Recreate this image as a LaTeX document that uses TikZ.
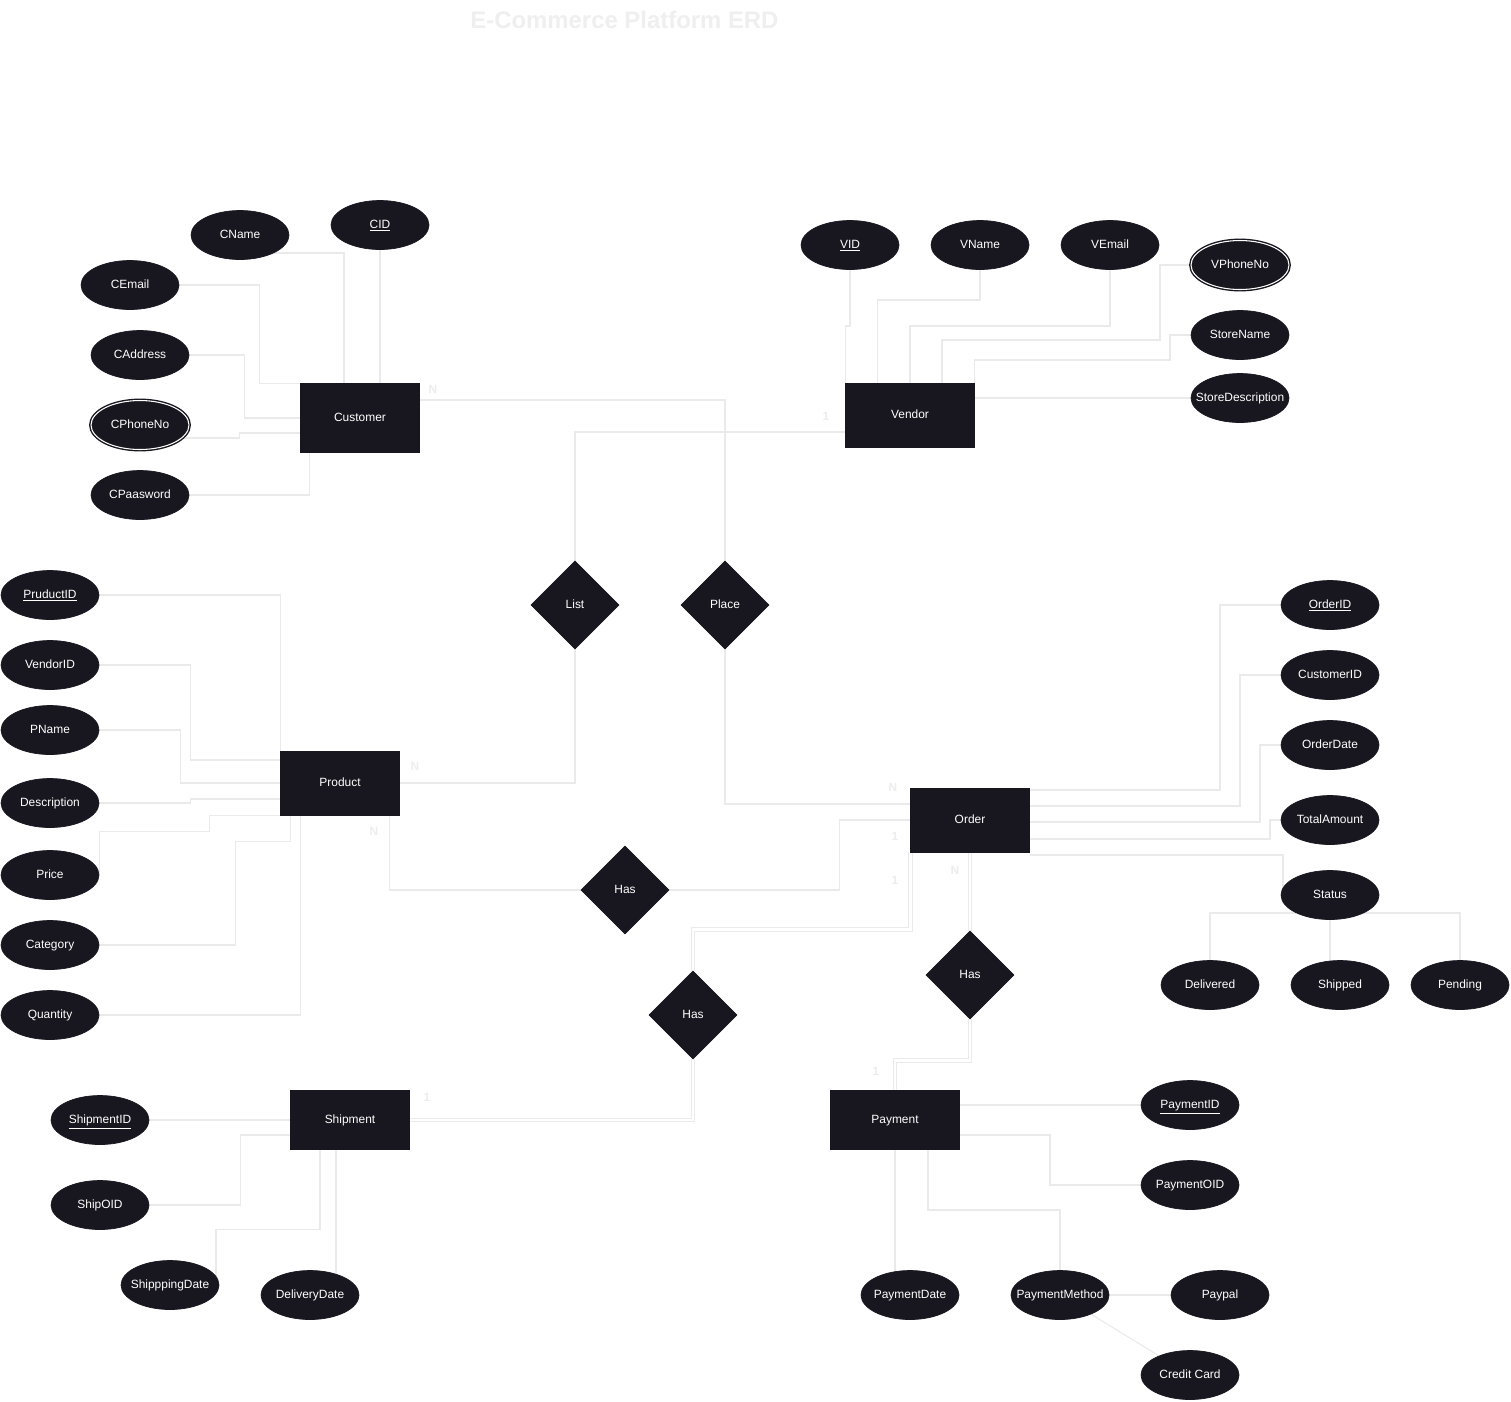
\documentclass[tikz,border=0pt]{standalone}
\usepackage{fontspec}
\setmainfont{Liberation Sans}
\usetikzlibrary{shapes.geometric,calc,backgrounds}
\definecolor{nodebg}{HTML}{18171F}
\definecolor{linec}{HTML}{EAEAEA}
\definecolor{cardc}{HTML}{EDEDED}
\definecolor{titlec}{HTML}{EFEFEF}
\newcommand\zw[1]{\makebox[0pt]{#1}}
\begin{document}
\begin{tikzpicture}[x=0.02cm, y=-0.02cm,
  font=\fontsize{6.8}{8}\selectfont,
  entity/.style={rectangle, fill=nodebg, draw=nodebg, text=white, inner sep=0pt, text height=5pt, text depth=1.4pt},
  attr/.style={ellipse, fill=nodebg, draw=nodebg, text=white, inner sep=0pt, minimum width=1.96cm, minimum height=0.98cm, text height=5pt, text depth=1.4pt},
  multi/.style={attr, double=white, double distance=0.6pt, line width=0.8pt},
  rel/.style={diamond, fill=nodebg, draw=nodebg, text=white, inner sep=0pt, minimum width=1.76cm, minimum height=1.76cm, text height=5pt, text depth=1.4pt},
  conn/.style={draw=linec, line width=0.6pt},
  dbl/.style={draw=linec, double=white, double distance=1.6pt, line width=0.55pt},
  card/.style={text=cardc, font=\fontsize{6.8}{8}\selectfont\bfseries, inner sep=0pt}]
\useasboundingbox (0,0) rectangle (1511,1401);

\node[text=titlec, font=\fontsize{13.6}{16}\selectfont\bfseries] (title) at (624.5,20) {E-Commerce Platform ERD};

% entities
\node[entity, minimum width=2.38cm, minimum height=1.38cm] (Customer) at (360,418) {Customer};
\node[entity, minimum width=2.58cm, minimum height=1.28cm] (Vendor) at (910,415) {Vendor};
\node[entity, minimum width=2.38cm, minimum height=1.28cm] (Product) at (340,783) {Product};
\node[entity, minimum width=2.38cm, minimum height=1.28cm] (Order) at (970,820) {Order};
\node[entity, minimum width=2.38cm, minimum height=1.18cm] (Shipment) at (350,1120) {Shipment};
\node[entity, minimum width=2.58cm, minimum height=1.18cm] (Payment) at (895,1120) {Payment};

% relationships
\node[rel] (List) at (575,605) {\zw{List}};
\node[rel] (Place) at (725,605) {\zw{Place}};
\node[rel] (Has1) at (625,890) {\zw{Has}};
\node[rel] (Has2) at (693,1015) {\zw{Has}};
\node[rel] (Has3) at (970,975) {\zw{Has}};

% customer attributes
\node[attr] (CID) at (380,225) {\zw{\underline{CID}}};
\node[attr] (CName) at (240,235) {\zw{CName}};
\node[attr] (CEmail) at (130,285) {\zw{CEmail}};
\node[attr] (CAddress) at (140,355) {\zw{CAddress}};
\node[multi] (CPhoneNo) at (140,425) {\zw{CPhoneNo}};
\node[attr] (CPaasword) at (140,495) {\zw{CPaasword}};

% vendor attributes
\node[attr] (VID) at (850,245) {\zw{\underline{VID}}};
\node[attr] (VName) at (980,245) {\zw{VName}};
\node[attr] (VEmail) at (1110,245) {\zw{VEmail}};
\node[multi] (VPhoneNo) at (1240,265) {\zw{VPhoneNo}};
\node[attr] (StoreName) at (1240,335) {\zw{StoreName}};
\node[attr] (StoreDescription) at (1240,398) {\zw{StoreDescription}};

% product attributes
\node[attr] (PruductID) at (50,595) {\zw{\underline{PruductID}}};
\node[attr] (VendorID) at (50,665) {\zw{VendorID}};
\node[attr] (PName) at (50,730) {\zw{PName}};
\node[attr] (Description) at (50,803) {\zw{Description}};
\node[attr] (Price) at (50,875) {\zw{Price}};
\node[attr] (Category) at (50,945) {\zw{Category}};
\node[attr] (Quantity) at (50,1015) {\zw{Quantity}};

% order attributes
\node[attr] (OrderID) at (1330,605) {\zw{\underline{OrderID}}};
\node[attr] (CustomerID) at (1330,675) {\zw{CustomerID}};
\node[attr] (OrderDate) at (1330,745) {\zw{OrderDate}};
\node[attr] (TotalAmount) at (1330,820) {\zw{TotalAmount}};
\node[attr] (Status) at (1330,895) {\zw{Status}};
\node[attr] (Delivered) at (1210,985) {\zw{Delivered}};
\node[attr] (Shipped) at (1340,985) {\zw{Shipped}};
\node[attr] (Pending) at (1460,985) {\zw{Pending}};

% shipment attributes
\node[attr] (ShipmentID) at (100,1120) {\zw{\underline{ShipmentID}}};
\node[attr] (ShipOID) at (100,1205) {\zw{ShipOID}};
\node[attr] (ShipppingDate) at (170,1285) {\zw{ShipppingDate}};
\node[attr] (DeliveryDate) at (310,1295) {\zw{DeliveryDate}};

% payment attributes
\node[attr] (PaymentID) at (1190,1105) {\zw{\underline{PaymentID}}};
\node[attr] (PaymentOID) at (1190,1185) {\zw{PaymentOID}};
\node[attr] (PaymentDate) at (910,1295) {\zw{PaymentDate}};
\node[attr] (PaymentMethod) at (1060,1295) {\zw{PaymentMethod}};
\node[attr] (Paypal) at (1220,1295) {\zw{Paypal}};
\node[attr] (CreditCard) at (1190,1375) {\zw{Credit Card}};

% cardinalities
\node[card] (c1) at (433,389) {N};
\node[card] (c2) at (826,416) {1};
\node[card] (c3) at (415,766) {N};
\node[card] (c4) at (374,831) {N};
\node[card] (c5) at (893,787) {N};
\node[card] (c6) at (895,836) {1};
\node[card] (c7) at (895,880) {1};
\node[card] (c8) at (955,870) {N};
\node[card] (c9) at (427,1097) {1};
\node[card] (c10) at (876,1071) {1};

\begin{scope}[on background layer]
\fill[white] (0,0) rectangle (1511,1401);
% customer
\draw[conn] (CID) -- (CID |- Customer.north);
\draw[conn] ($(CName)+(0,18)$) -| ($(Customer.north)+(-16,0)$);
\draw[conn] (CEmail) -| ($(Customer.north west)+(-41,0)$) -- (Customer.north west);
\draw[conn] (CAddress) -| ($(Customer.west)+(-56,0)$) -- (Customer.west);
\draw[conn] ($(CPhoneNo)+(0,13)$) -| ($(Customer.west)+(-61,15)$) -- ($(Customer.west)+(0,15)$);
\draw[conn] (CPaasword) -| ($(Customer.south west)+(9,0)$);
% relationships
\draw[conn] ($(Customer.east)+(0,-18)$) -| (Place.north);
\draw[conn] ($(Vendor.west)+(0,17)$) -| (List.north);
\draw[conn] (List.south) |- (Product.east);
\draw[conn] (Place.south) |- ($(Order.west)+(0,-16)$);
\draw[conn] ($(Product.south east)+(-10,0)$) |- (Has1.west);
\draw[conn] (Has1.east) -| ($(Order.west)+(-71,0)$) -- (Order.west);
\draw[dbl] (Order.south west) |- ($(Has2.north)+(0,-41)$) -- (Has2.north);
\draw[dbl] (Has2.south) |- (Shipment.east);
\draw[dbl] (Order.south) -- (Has3.north);
\draw[dbl] (Has3.south) -- ++(0,41) -| (Payment.north);
% vendor
\draw[conn] (VID) -- ($(VID)+(0,81)$) -| (Vendor.north west);
\draw[conn] (VName) -- ($(VName)+(0,55)$) -| ($(Vendor.north west)+(32,0)$);
\draw[conn] (VEmail) -- ($(VEmail)+(0,81)$) -| (Vendor.north);
\draw[conn] (VPhoneNo) -| ($(VPhoneNo)+(-80,75)$) -| ($(Vendor.north)+(32,0)$);
\draw[conn] (StoreName) -| ($(StoreName)+(-70,25)$) -| (Vendor.north east);
\draw[conn] (StoreDescription) -- (StoreDescription -| Vendor.east);
% product
\draw[conn] (PruductID) -| (Product.north west);
\draw[conn] (VendorID) -| ($(Product.west)+(-90,-23)$) -- ($(Product.west)+(0,-23)$);
\draw[conn] (PName) -| ($(Product.west)+(-100,0)$) -- (Product.west);
\draw[conn] (Description) -| ($(Product.west)+(-90,16)$) -- ($(Product.west)+(0,16)$);
\draw[conn] (Price.east) |- ($(Product.south west)+(-71,16)$) |- (Product.south west);
\draw[conn] (Category) -| ($(Product.south west)+(-45,26)$) -| ($(Product.south west)+(10,0)$);
\draw[conn] (Quantity) -| ($(Product.south west)+(20,0)$);
% order
\draw[conn] ($(Order.east)+(0,-30)$) -| ($(OrderID)+(-110,0)$) -- (OrderID);
\draw[conn] ($(Order.east)+(0,-14)$) -| ($(CustomerID)+(-90,0)$) -- (CustomerID);
\draw[conn] ($(Order.east)+(0,2)$) -| ($(OrderDate)+(-70,0)$) -- (OrderDate);
\draw[conn] ($(Order.east)+(0,19)$) -| ($(TotalAmount)+(-60,0)$) -- (TotalAmount);
\draw[conn] ($(Order.east)+(0,35)$) -| ($(Status)+(-47,0)$);
\draw[conn] ($(Status)+(0,18)$) -| (Delivered);
\draw[conn] ($(Status)+(0,18)$) -| (Pending);
\draw[conn] (Status) -- (Status |- Shipped);
% shipment
\draw[conn] (ShipmentID) -- (Shipment);
\draw[conn] (ShipOID) -| ($(Shipment.west)+(-50,15)$) -- ($(Shipment.west)+(0,15)$);
\draw[conn] ($(ShipppingDate)+(46,0)$) |- ($(Shipment.south)+(-30,80)$) -- ($(Shipment.south)+(-30,0)$);
\draw[conn] ($(DeliveryDate)+(26,0)$) -- ($(Shipment.south)+(-14,0)$);
% payment
\draw[conn] ($(Payment.east)+(0,-15)$) -- (PaymentID);
\draw[conn] ($(Payment.east)+(0,15)$) -| ($(PaymentOID)+(-140,0)$) -- (PaymentOID);
\draw[conn] ($(Payment.south)+(33,0)$) |- ($(PaymentMethod)+(0,-85)$) -- (PaymentMethod);
\draw[conn] (Payment.south) -- ($(PaymentDate)+(-15,0)$);
\draw[conn] (PaymentMethod) -- (Paypal);
\draw[conn] (PaymentMethod) -- (CreditCard);
\end{scope}
\end{tikzpicture}
\end{document}
